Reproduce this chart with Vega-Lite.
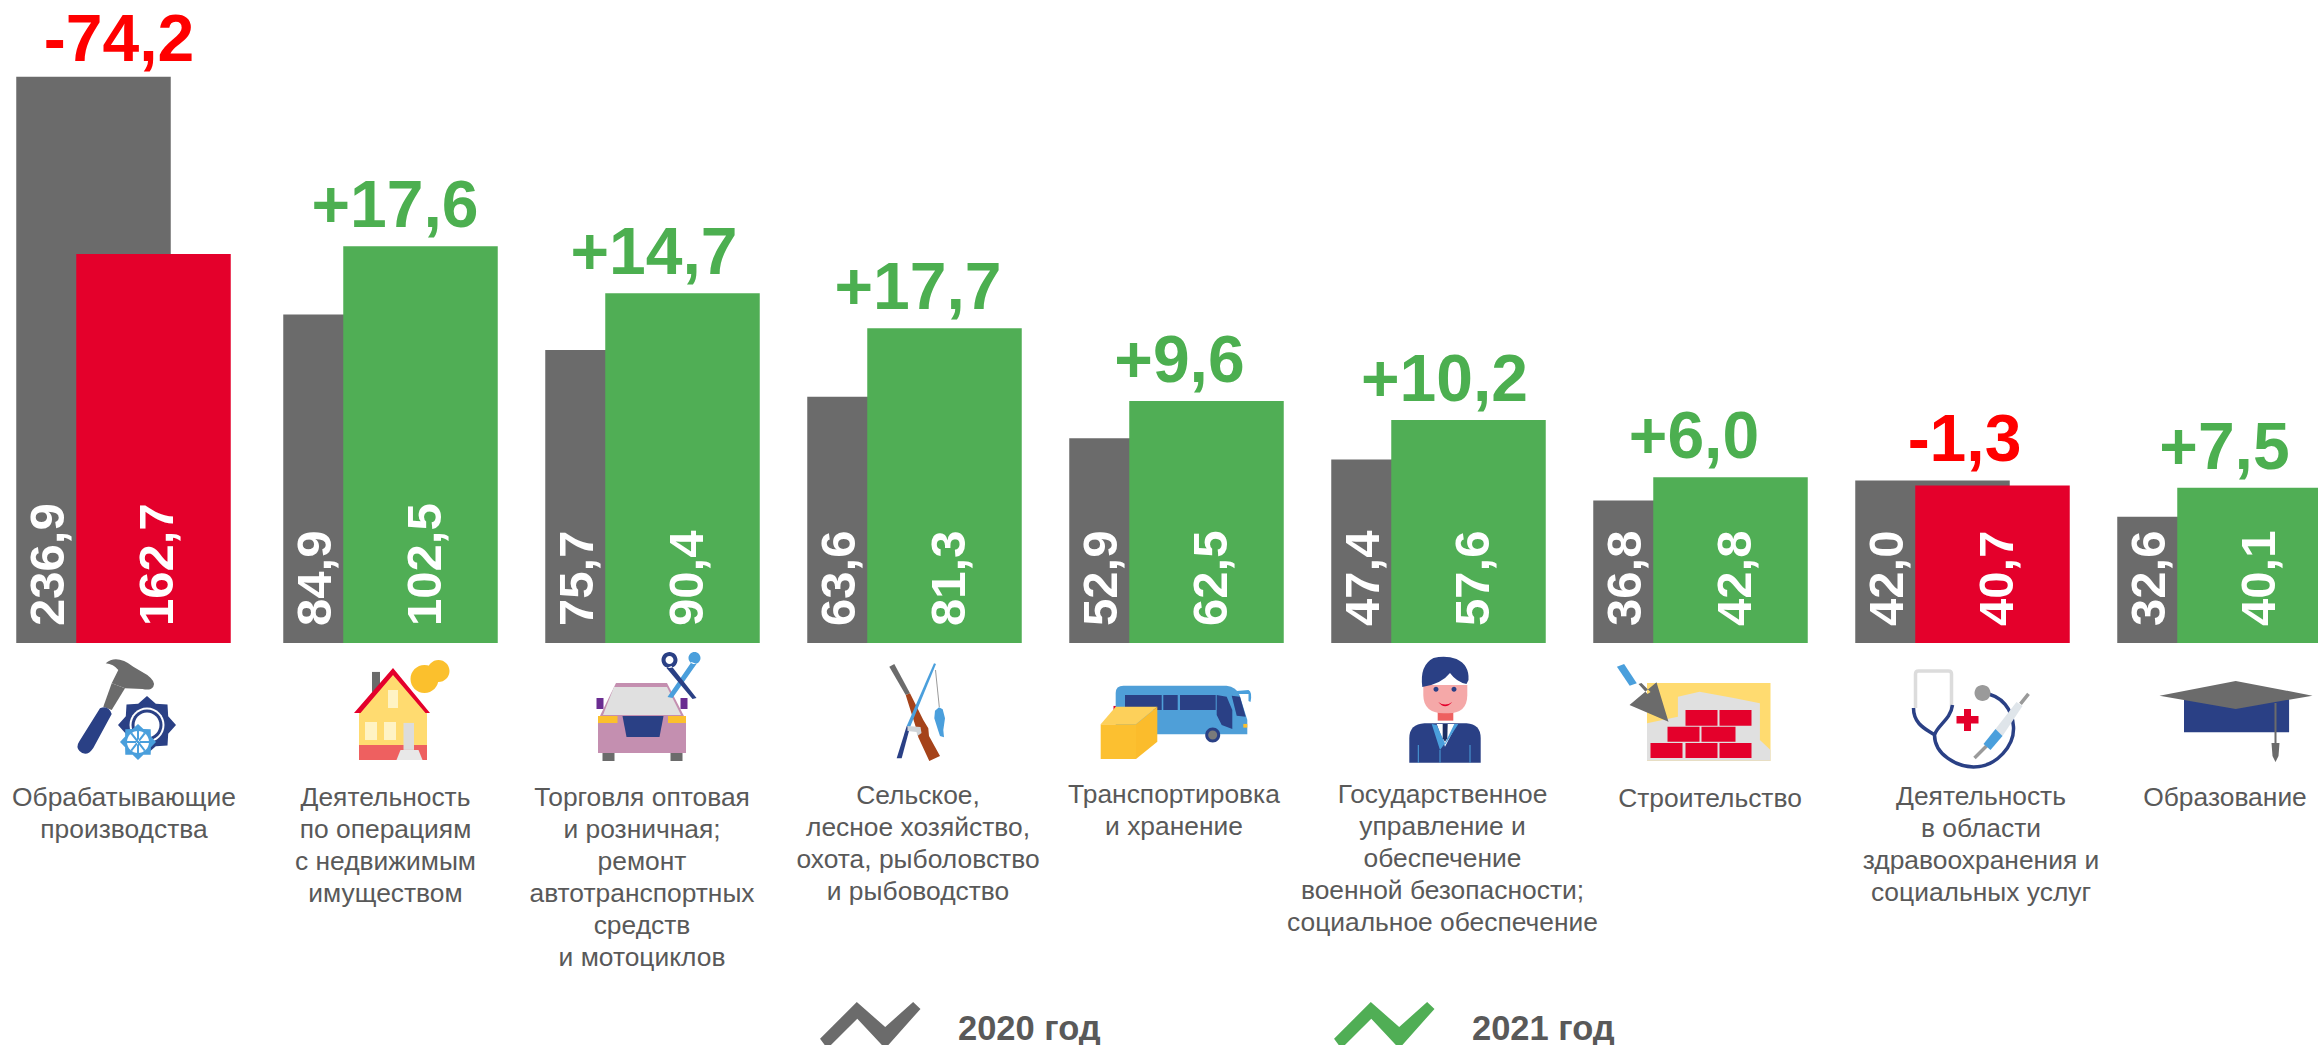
{"$schema":"https://vega.github.io/schema/vega-lite/v6.json","width":2318,"height":1045,"padding":0,"autosize":{"type":"none"},"background":"#ffffff",
"resolve":{"scale":{"y":"independent","shape":"independent"}},
"config":{"view":{"stroke":null},"style":{
"val":{"font":"Liberation Sans","fontSize":49,"fontWeight":"bold","color":"#ffffff","angle":270,"align":"left","baseline":"middle","dx":17},
"up":{"font":"Liberation Sans","fontSize":66,"fontWeight":"bold","color":"#4caf50","align":"center","baseline":"alphabetic","dy":-19},
"down":{"font":"Liberation Sans","fontSize":66,"fontWeight":"bold","color":"#ff0000","align":"center","baseline":"alphabetic","dy":-19},
"cap":{"font":"Liberation Sans","fontSize":26.4,"color":"#595959","align":"center","baseline":"top","lineBreak":"\n","lineHeight":32}}},
"datasets":{
"bars":[
{"cat":"Производство","year":"2020","status":"2020 год","value":236.9,"label":"236,9"},
{"cat":"Производство","year":"2021","status":"снижение","value":162.7,"label":"162,7"},
{"cat":"Недвижимость","year":"2020","status":"2020 год","value":84.9,"label":"84,9"},
{"cat":"Недвижимость","year":"2021","status":"2021 год","value":102.5,"label":"102,5"},
{"cat":"Торговля","year":"2020","status":"2020 год","value":75.7,"label":"75,7"},
{"cat":"Торговля","year":"2021","status":"2021 год","value":90.4,"label":"90,4"},
{"cat":"Сельское","year":"2020","status":"2020 год","value":63.6,"label":"63,6"},
{"cat":"Сельское","year":"2021","status":"2021 год","value":81.3,"label":"81,3"},
{"cat":"Транспорт","year":"2020","status":"2020 год","value":52.9,"label":"52,9"},
{"cat":"Транспорт","year":"2021","status":"2021 год","value":62.5,"label":"62,5"},
{"cat":"Госуправление","year":"2020","status":"2020 год","value":47.4,"label":"47,4"},
{"cat":"Госуправление","year":"2021","status":"2021 год","value":57.6,"label":"57,6"},
{"cat":"Строительство","year":"2020","status":"2020 год","value":36.8,"label":"36,8"},
{"cat":"Строительство","year":"2021","status":"2021 год","value":42.8,"label":"42,8"},
{"cat":"Здравоохранение","year":"2020","status":"2020 год","value":42.0,"label":"42,0"},
{"cat":"Здравоохранение","year":"2021","status":"снижение","value":40.7,"label":"40,7"},
{"cat":"Образование","year":"2020","status":"2020 год","value":32.6,"label":"32,6"},
{"cat":"Образование","year":"2021","status":"2021 год","value":40.1,"label":"40,1"}],
"deltas":[
{"cat":"Производство","delta":"-74,2","top":236.9},
{"cat":"Недвижимость","delta":"+17,6","top":102.5},
{"cat":"Торговля","delta":"+14,7","top":90.4},
{"cat":"Сельское","delta":"+17,7","top":81.3},
{"cat":"Транспорт","delta":"+9,6","top":62.5},
{"cat":"Госуправление","delta":"+10,2","top":57.6},
{"cat":"Строительство","delta":"+6,0","top":42.8},
{"cat":"Здравоохранение","delta":"-1,3","top":42.0},
{"cat":"Образование","delta":"+7,5","top":40.1}],
"caps":[
{"cat":"Производство","label":"Обрабатывающие\nпроизводства"},
{"cat":"Недвижимость","label":"Деятельность\nпо операциям\nс недвижимым\nимуществом"},
{"cat":"Торговля","label":"Торговля оптовая\nи розничная;\nремонт\nавтотранспортных\nсредств\nи мотоциклов"},
{"cat":"Сельское","label":"Сельское,\nлесное хозяйство,\nохота, рыболовство\nи рыбоводство"},
{"cat":"Транспорт","label":"Транспортировка\nи хранение"},
{"cat":"Госуправление","label":"Государственное\nуправление и\nобеспечение\nвоенной безопасности;\nсоциальное обеспечение"},
{"cat":"Строительство","label":"Строительство"},
{"cat":"Здравоохранение","label":"Деятельность\nв области\nздравоохранения и\nсоциальных услуг"},
{"cat":"Образование","label":"Образование"}],
"icons":[
{"cat":"Производство","part":"hammerShaft"},{"cat":"Производство","part":"hammerHead"},{"cat":"Производство","part":"hammerGrip"},{"cat":"Производство","part":"gearBig"},{"cat":"Производство","part":"gearRing"},{"cat":"Производство","part":"gearCore"},{"cat":"Производство","part":"gearHole"},{"cat":"Производство","part":"gearSmall"},{"cat":"Производство","part":"gearSmallHole"},{"cat":"Производство","part":"gearSpokes"},
{"cat":"Недвижимость","part":"chimney"},{"cat":"Недвижимость","part":"houseBody"},{"cat":"Недвижимость","part":"houseBase"},{"cat":"Недвижимость","part":"houseRoof"},{"cat":"Недвижимость","part":"houseDoor"},{"cat":"Недвижимость","part":"houseSteps"},{"cat":"Недвижимость","part":"houseWindows"},{"cat":"Недвижимость","part":"coins"},
{"cat":"Торговля","part":"carMirrors"},{"cat":"Торговля","part":"carWheels"},{"cat":"Торговля","part":"carBody"},{"cat":"Торговля","part":"carGlass"},{"cat":"Торговля","part":"carLights"},{"cat":"Торговля","part":"carGrill"},{"cat":"Торговля","part":"wrench"},{"cat":"Торговля","part":"scissors"},
{"cat":"Сельское","part":"rifleBarrel"},{"cat":"Сельское","part":"rifleStock"},{"cat":"Сельское","part":"rod"},{"cat":"Сельское","part":"rodLow"},{"cat":"Сельское","part":"reel"},{"cat":"Сельское","part":"fishLine"},{"cat":"Сельское","part":"fish"},
{"cat":"Транспорт","part":"busTail"},{"cat":"Транспорт","part":"busMirror"},{"cat":"Транспорт","part":"busBody"},{"cat":"Транспорт","part":"busGlass"},{"cat":"Транспорт","part":"busLamp"},{"cat":"Транспорт","part":"busWheel"},{"cat":"Транспорт","part":"busHub"},{"cat":"Транспорт","part":"boxLeft"},{"cat":"Транспорт","part":"boxRight"},{"cat":"Транспорт","part":"boxTop"},
{"cat":"Госуправление","part":"suit"},{"cat":"Госуправление","part":"neck"},{"cat":"Госуправление","part":"shirt"},{"cat":"Госуправление","part":"lapels"},{"cat":"Госуправление","part":"tie"},{"cat":"Госуправление","part":"face"},{"cat":"Госуправление","part":"hair"},{"cat":"Госуправление","part":"eyes"},{"cat":"Госуправление","part":"smile"},
{"cat":"Строительство","part":"wall"},{"cat":"Строительство","part":"plaster"},{"cat":"Строительство","part":"bricks"},{"cat":"Строительство","part":"trowel"},{"cat":"Строительство","part":"trowelGrip"},
{"cat":"Здравоохранение","part":"syringeBody"},{"cat":"Здравоохранение","part":"syringeDose"},{"cat":"Здравоохранение","part":"cross"},{"cat":"Здравоохранение","part":"chestPiece"},
{"cat":"Образование","part":"capBody"},{"cat":"Образование","part":"capTop"},{"cat":"Образование","part":"tassel"}],
"lines":[
{"cat":"Здравоохранение","part":"headset"},{"cat":"Здравоохранение","part":"tube"},{"cat":"Здравоохранение","part":"needle"}]
},
"encoding":{"x":{"field":"cat","type":"nominal","axis":null,"scale":{"type":"band","domain":["Производство","Недвижимость","Торговля","Сельское","Транспорт","Госуправление","Строительство","Здравоохранение","Образование"],"range":[-2.5,2355.5],"paddingInner":0,"paddingOuter":0}}},
"layer":[
{"data":{"name":"bars"},
 "encoding":{"y":{"field":"value","type":"quantitative","axis":null,"stack":null,"scale":{"domain":[-168.2,269],"nice":false,"zero":false}},
 "color":{"field":"status","type":"nominal","scale":{"domain":["2020 год","2021 год","снижение"],"range":["#6b6b6b","#50ae55","#e4002b"]},
  "legend":{"title":null,"orient":"none","legendX":822,"legendY":981,"direction":"horizontal","columns":2,"values":["2020 год","2021 год"],"symbolType":"M-1.04,.17 L-.29,-.58 L.29,-.07 L.86,-.58 L1.01,-.44 L.29,.37 L-.28,-.24 L-.89,.37 Z","symbolSize":9604,"symbolStrokeWidth":0,"symbolOpacity":1,"labelFont":"Liberation Sans","labelFontSize":34.5,"labelFontWeight":"bold","labelColor":"#595959","labelOffset":38,"columnPadding":233}}},
 "layer":[
 {"transform":[{"filter":"datum.year==='2020' && datum.cat==='Производство'"}],"mark":{"type":"bar","width":154.5,"xOffset":-35}},
 {"transform":[{"filter":"datum.year==='2021' && datum.cat==='Производство'"}],"mark":{"type":"bar","width":154.5,"xOffset":25}}]},
{"data":{"name":"bars"},
 "encoding":{"y":{"field":"value","type":"quantitative","axis":null,"stack":null,"scale":{"domain":[-103.9,166.15],"nice":false,"zero":false}},
 "color":{"field":"status","type":"nominal","scale":{"domain":["2020 год","2021 год","снижение"],"range":["#6b6b6b","#50ae55","#e4002b"]},
  "legend":{"title":null,"orient":"none","legendX":822,"legendY":981,"direction":"horizontal","columns":2,"values":["2020 год","2021 год"],"symbolType":"M-1.04,.17 L-.29,-.58 L.29,-.07 L.86,-.58 L1.01,-.44 L.29,.37 L-.28,-.24 L-.89,.37 Z","symbolSize":9604,"symbolStrokeWidth":0,"symbolOpacity":1,"labelFont":"Liberation Sans","labelFontSize":34.5,"labelFontWeight":"bold","labelColor":"#595959","labelOffset":38,"columnPadding":233}}},
 "layer":[
 {"transform":[{"filter":"datum.year==='2020' && datum.cat!=='Производство'"}],"mark":{"type":"bar","width":154.5,"xOffset":-30}},
 {"transform":[{"filter":"datum.year==='2021' && datum.cat!=='Производство'"}],"mark":{"type":"bar","width":154.5,"xOffset":30}}]},
{"data":{"name":"bars"},
 "encoding":{"y":{"datum":0,"axis":null,"scale":{"domain":[-168.2,269],"nice":false,"zero":false}},"text":{"field":"label","type":"nominal"}},
 "layer":[
 {"transform":[{"filter":"datum.year==='2020' && datum.cat==='Производство'"}],"mark":{"type":"text","style":"val","dy":-79.5}},
 {"transform":[{"filter":"datum.year==='2021' && datum.cat==='Производство'"}],"mark":{"type":"text","style":"val","dy":29}},
 {"transform":[{"filter":"datum.year==='2020' && datum.cat!=='Производство'"}],"mark":{"type":"text","style":"val","dy":-74.5}},
 {"transform":[{"filter":"datum.year==='2021' && datum.cat!=='Производство'"}],"mark":{"type":"text","style":"val","dy":35}}]},
{"data":{"name":"deltas"},"transform":[{"filter":"datum.cat==='Производство'"}],
 "mark":{"type":"text","style":"down","dx":-9.5,"dy":-16},
 "encoding":{"y":{"field":"top","type":"quantitative","axis":null,"scale":{"domain":[-168.2,269],"nice":false,"zero":false}},"text":{"field":"delta","type":"nominal"}}},
{"data":{"name":"deltas"},
 "encoding":{"y":{"field":"top","type":"quantitative","axis":null,"scale":{"domain":[-103.9,166.15],"nice":false,"zero":false}},"text":{"field":"delta","type":"nominal"}},
 "layer":[
 {"transform":[{"filter":"datum.cat==='Недвижимость'"}],"mark":{"type":"text","style":"up","dx":4.5}},
 {"transform":[{"filter":"datum.cat==='Торговля'"}],"mark":{"type":"text","style":"up","dx":1.5}},
 {"transform":[{"filter":"datum.cat==='Сельское'"}],"mark":{"type":"text","style":"up","dx":3.5}},
 {"transform":[{"filter":"datum.cat==='Транспорт'"}],"mark":{"type":"text","style":"up","dx":3}},
 {"transform":[{"filter":"datum.cat==='Госуправление'"}],"mark":{"type":"text","style":"up","dx":6}},
 {"transform":[{"filter":"datum.cat==='Строительство'"}],"mark":{"type":"text","style":"up","dx":-6.5}},
 {"transform":[{"filter":"datum.cat==='Здравоохранение'"}],"mark":{"type":"text","style":"down","dx":2}},
 {"transform":[{"filter":"datum.cat==='Образование'"}],"mark":{"type":"text","style":"up","dx":0}}]},
{"data":{"name":"caps"},
 "encoding":{"y":{"datum":-59.6,"axis":null,"scale":{"domain":[-168.2,269],"nice":false,"zero":false}},"text":{"field":"label","type":"nominal"}},
 "layer":[
 {"transform":[{"filter":"datum.cat==='Производство'"}],"mark":{"type":"text","style":"cap","dx":-4.5}},
 {"transform":[{"filter":"datum.cat==='Недвижимость'"}],"mark":{"type":"text","style":"cap","dx":-5}},
 {"transform":[{"filter":"datum.cat==='Торговля'"}],"mark":{"type":"text","style":"cap","dx":-10.5}},
 {"transform":[{"filter":"datum.cat==='Сельское'"}],"mark":{"type":"text","style":"cap","dx":3.5,"dy":-2}},
 {"transform":[{"filter":"datum.cat==='Транспорт'"}],"mark":{"type":"text","style":"cap","dx":-2.5,"dy":-3}},
 {"transform":[{"filter":"datum.cat==='Госуправление'"}],"mark":{"type":"text","style":"cap","dx":4,"dy":-3}},
 {"transform":[{"filter":"datum.cat==='Строительство'"}],"mark":{"type":"text","style":"cap","dx":9.5,"dy":1}},
 {"transform":[{"filter":"datum.cat==='Здравоохранение'"}],"mark":{"type":"text","style":"cap","dx":18.5,"dy":-1}},
 {"transform":[{"filter":"datum.cat==='Образование'"}],"mark":{"type":"text","style":"cap","dx":0.5}}]},
{"data":{"name":"lines"},
 "mark":{"type":"point","filled":false,"size":4,"opacity":1,"strokeWidth":3.5},
 "encoding":{"y":{"datum":-32.2,"axis":null,"scale":{"domain":[-168.2,269],"nice":false,"zero":false}},
 "shape":{"field":"part","type":"nominal","legend":null,"scale":{"domain":["headset","tube","needle"],"range":["M-47,-12 L-47,-46 Q-47,-49 -44,-49 L-14,-49 Q-11,-49 -11,-46 L-11,-12","M-49,-12 C-49,5 -35,10 -28,15 C-25,5 -12,0 -10,-15 M-28,15 C-28,35 -5,47 11,47 C35,47 52,25 51,7 C50,-10 40,-25 20,-27","M24,26 L12,38 M58,-16 L66,-26"]}},
 "stroke":{"field":"part","type":"nominal","legend":null,"scale":{"domain":["headset","tube","needle"],"range":["#dcdcdc","#2a4085","#9a9a9a"]}}}},
{"data":{"name":"icons"},
 "mark":{"type":"point","filled":true,"size":4,"opacity":1},
 "encoding":{"y":{"datum":-32.2,"axis":null,"scale":{"domain":[-168.2,269],"nice":false,"zero":false}},
 "shape":{"field":"part","type":"nominal","legend":null,"scale":{
 "domain":["hammerShaft","hammerHead","hammerGrip","gearBig","gearRing","gearCore","gearHole","gearSmall","gearSmallHole","gearSpokes","chimney","houseBody","houseBase","houseRoof","houseDoor","houseSteps","houseWindows","coins","carMirrors","carWheels","carBody","carGlass","carLights","carGrill","wrench","scissors","rifleBarrel","rifleStock","rod","rodLow","reel","fishLine","fish","busTail","busMirror","busBody","busGlass","busLamp","busWheel","busHub","boxLeft","boxRight","boxTop","suit","neck","shirt","lapels","tie","face","hair","eyes","smile","wall","plaster","bricks","trowel","trowelGrip","syringeBody","syringeDose","cross","chestPiece","capBody","capTop","tassel"],
 "range":[
 "M-16.8,-36.7 L-3.5,-31.7 L-16.8,-10 L-25.2,-13.3 Z",
 "M-22.8,-56.7 Q-12,-66 4.8,-53.3 L18.8,-45 Q28,-38 24.8,-33.3 Q22,-29 14,-31 L-3.5,-31.7 L-16.8,-36.7 L-10.2,-50 Q-15,-56 -22.8,-56.7 Z",
 "M-28.5,-11.7 Q-20,-15 -16.8,-6 L-35.2,28 Q-42,38 -49,31 Q-53,27 -49,21 Z",
 "M47.5,5 L39.7,13.8 L39,25.5 L27.3,26.2 L18.5,34 L9.7,26.2 L-2,25.5 L-2.7,13.8 L-10.5,5 L-2.7,-3.8 L-2,-15.5 L9.7,-16.2 L18.5,-24 L27.3,-16.2 L39,-15.5 L39.7,-3.8 Z",
 "M1,5 a17.5,17.5 0 1 0 35,0 a17.5,17.5 0 1 0 -35,0 Z",
 "M3,5 a15.5,15.5 0 1 0 31,0 a15.5,15.5 0 1 0 -31,0 Z",
 "M6,5 a12.5,12.5 0 1 0 25,0 a12.5,12.5 0 1 0 -25,0 Z",
 "M27.5,22 L22.4,27.4 L22.2,34.7 L14.9,34.9 L9.5,40 L4.1,34.9 L-3.2,34.7 L-3.4,27.4 L-8.5,22 L-3.4,16.6 L-3.2,9.3 L4.1,9.1 L9.5,4 L14.9,9.1 L22.2,9.3 L22.4,16.6 Z",
 "M-1.5,22 a11,11 0 1 0 22,0 a11,11 0 1 0 -22,0 Z",
 "M8.5,11 H10.5 V33 H8.5 Z M-1.5,21 H20.5 V23 H-1.5 Z M2,14 L3.5,12.6 L17,30 L15.5,31.4 Z M17,14 L15.5,12.6 L2,30 L3.5,31.4 Z",
 "M-18.5,-48 H-10.5 V-28 H-18.5 Z",
 "M2.5,-46 L36.5,-8 L36.5,40 L-31.5,40 L-31.5,-8 Z",
 "M-31.5,25 H36.5 V40 H-31.5 Z",
 "M2.5,-52 L39.5,-7 L35,-7 L2.5,-45 L-30,-7 L-36.5,-7 Z",
 "M13,3 H23.5 V30 H13 Z",
 "M10,30 H28 L32,40 H6 Z",
 "M-2.5,-30 H7.5 V-12 H-2.5 Z M-25.5,2 H-13.5 V20 H-25.5 Z M-6.5,2 H5.5 V20 H-6.5 Z",
 "M20,-41 a14,14 0 1 0 28,0 a14,14 0 1 0 -28,0 Z M37,-49 a11,11 0 1 0 22,0 a11,11 0 1 0 -22,0 Z",
 "M-56,-22 H-49 V-11 H-56 Z M28,-22 H35 V-11 H28 Z",
 "M-50,30 H-38 V41 H-50 Z M18,30 H30 V41 H18 Z",
 "M-36.5,-37 L14.5,-37 L33.5,0 L33.5,33 L-54.5,33 L-54.5,0 Z",
 "M-49.5,-5 L-38.5,-33 L14.5,-33 L28.5,-5 Z",
 "M-54.5,-4 H-35 V3 H-54.5 Z M15.5,-4 H33.5 V3 H15.5 Z",
 "M-30,-4 H11 L7,17 H-26 Z",
 "M39,-58 L44,-56 L20,-22 L15,-23 Z M36,-62 a6,6 0 1 0 12,0 a6,6 0 1 0 -12,0 Z",
 "M14,-52 L19,-54 L44,-22 L40,-21 Z M9,-60 a8,8 0 1 0 16,0 a8,8 0 1 0 -16,0 Z M13,-60 a4,4 0 1 1 8,0 a4,4 0 1 1 -8,0 Z",
 "M-25.2,-53.3 L-20.2,-56 L-4.5,-26.7 L-8.8,-25 Z",
 "M-8.8,-25 L-4.5,-26.7 L8.8,0 L13.8,8.3 L14.5,16 L25.5,36 L14.8,41 L3.8,17.3 L2.2,10 Z",
 "M19.5,-56.7 L21.5,-56 L-4.5,7.3 L-7.8,6 Z",
 "M-7.8,6 L-4.5,7.3 L-12.8,38.3 L-17.8,38.3 Z",
 "M-7,6 L6,7 L7,13 L3,16 L2,12 L-7,11 Z",
 "M20.5,-50 L21.5,-50 L25.3,-13 L24.3,-13 Z",
 "M24.5,-12.7 L28.2,-10.7 L30.5,-1.7 L28.8,10 L29.5,17.3 L25.5,16 L23.5,10 L19.8,-1.7 L20.5,-9.3 Z",
 "M-63,-14 H-60 V-7 H-63 Z",
 "M60,-29 L72,-30 Q76,-28 74,-18 L72,-19 L72,-26 L60,-26 Z",
 "M-60.8,-27 Q-60.8,-34.3 -53,-34.3 L50,-34.3 Q60,-33 63,-25 L70.8,0 L70.8,14.3 L-60.8,14.3 Z",
 "M-51.5,-25 H-14.8 V-10 H-51.5 Z M-13.2,-25 H1.2 V-10 H-13.2 Z M3.5,-25 H39.2 V-10 H3.5 Z M40.2,-25 L50.2,-23.3 L55.8,-10 L55.8,9 L45.2,5 L40.2,-5 Z M55.2,-24.3 L63.5,-23.3 L69.2,-3.3 L60.2,-4.3 Z",
 "M66.8,4 H70.8 V7.7 H66.8 Z",
 "M28.7,15 a7.5,7.5 0 1 0 15,0 a7.5,7.5 0 1 0 -15,0 Z",
 "M31.7,15 a4.5,4.5 0 1 0 9,0 a4.5,4.5 0 1 0 -9,0 Z",
 "M-75.8,4.3 H-40.5 V39 H-75.8 Z",
 "M-40.5,4.3 L-19.2,-13.3 L-19.2,21.7 L-40.5,39 Z",
 "M-75.8,4.3 L-60.8,-13.3 L-19.2,-13.3 L-40.5,4.3 Z",
 "M-29.2,42.7 L-29.2,18 Q-29,4 -14,3.3 L28,3.3 Q42,4 42.2,18 L42.2,42.7 Z",
 "M-0.8,-9 H14.8 V0.7 H-0.8 Z",
 "M-1.8,4 L18.2,4 L6.5,26.7 Z",
 "M-6.8,4 L-1.8,5 L6.5,23.3 L1.5,30 Z M19.8,4 L15.8,4 L6.5,23.3 L5,27 Z M-20.7,25 H-19.7 V42.7 H-20.7 Z M31,25 H32 V42.7 H31 Z M1,30 H2 V42.7 H1 Z",
 "M4.2,4 L9.2,4 L8.8,18.3 L6.5,21.7 L4.2,18.3 Z",
 "M-15.2,-35 L-15.2,-25 Q-15,-7 5,-6.7 L10,-6.7 Q28.8,-7 28.8,-25 L28.8,-35 Z",
 "M-16.2,-33 Q-19,-55 -5,-62 Q7,-65 18,-61 Q31,-55 30,-40 L28,-36 Q18,-38 11.5,-47 Q3,-36 -16.2,-33 Z",
 "M-5,-30.7 a2.5,2.5 0 1 0 5,0 a2.5,2.5 0 1 0 -5,0 Z M13,-30.7 a2.5,2.5 0 1 0 5,0 a2.5,2.5 0 1 0 -5,0 Z",
 "M-0.2,-18 Q6.5,-9.5 13.8,-18 Q6.5,-13 -0.2,-18 Z",
 "M-53.5,-37 H70 V41 H-53.5 Z",
 "M-22.6,-23.3 L-1,-28.3 L34.5,-21.7 L59.4,-16.7 L59.4,20 L70,30 L70,40.7 L-53.5,40.7 L-53.5,3.3 L-22.6,-3.3 Z",
 "M-15,-10 H17 V5.7 H-15 Z M19,-10 H51 V5.7 H19 Z M-33,6.7 H-1 V21.7 H-33 Z M1,6.7 H35 V21.7 H1 Z M-50,23 H-18 V38 H-50 Z M-15,23 H17 V38 H-15 Z M19,23 H51 V38 H19 Z",
 "M-44,-37.7 L-71,-15 L-32,1.7 Z M-62,-36 L-59,-37 L-50,-28 L-53,-26 Z",
 "M-83.6,-53.3 L-76.4,-56 L-63.7,-36.7 L-70.8,-34.3 Z",
 "M33,9 L40,16 L60,-14 L54,-18 Z",
 "M33,9 L40,16 L28,30 L21,24 Z",
 "M1.5,-11 H8.5 V-4 H16 V3.5 H8.5 V11 H1.5 V3.5 H-6 V-4 H1.5 Z",
 "M12,-27 a8,8 0 1 0 16,0 a8,8 0 1 0 -16,0 Z",
 "M-40.5,-22 H64.6 V12.3 H-40.5 Z",
 "M-65,-24.3 L11.2,-39 L88,-24.3 L11.2,-11 Z",
 "M50,-17 H52 V23 H55 L54,36 L51,42 L48,36 L47,23 H50 Z"]}},
 "fill":{"field":"part","type":"nominal","legend":null,"scale":{
 "domain":["hammerShaft","hammerHead","hammerGrip","gearBig","gearRing","gearCore","gearHole","gearSmall","gearSmallHole","gearSpokes","chimney","houseBody","houseBase","houseRoof","houseDoor","houseSteps","houseWindows","coins","carMirrors","carWheels","carBody","carGlass","carLights","carGrill","wrench","scissors","rifleBarrel","rifleStock","rod","rodLow","reel","fishLine","fish","busTail","busMirror","busBody","busGlass","busLamp","busWheel","busHub","boxLeft","boxRight","boxTop","suit","neck","shirt","lapels","tie","face","hair","eyes","smile","wall","plaster","bricks","trowel","trowelGrip","syringeBody","syringeDose","cross","chestPiece","capBody","capTop","tassel"],
 "range":["#6b6b6b","#6b6b6b","#2a4085","#2a4085","#ffffff","#2a4085","#ffffff","#4a9fdc","#ffffff","#4a9fdc","#6b6b6b","#ffdb70","#ee6060","#e4002b","#dcdcdc","#e8e8e8","#fff3c4","#fbc02d","#6a2c91","#6b6b6b","#c48fb0","#e0e0e0","#fbc02d","#2a4085","#4a9fdc","#2a4085","#6b6b6b","#a5431a","#4a9fdc","#2a4085","#cfd4d8","#9a9a9a","#4a9fdc","#e4002b","#4a9fdc","#4f9fd8","#2a4085","#fbc02d","#2a4085","#7a7a7a","#fcc030","#fbbc2c","#fdd05a","#2a4085","#ee6060","#ffffff","#4a9fdc","#1e2f63","#f5a8a8","#2a4085","#2a4085","#e4002b","#ffdb70","#e0e0e0","#e4002b","#6b6b6b","#4a9fdc","#dfe5ea","#4a9fdc","#e4002b","#9a9a9a","#2a4085","#6b6b6b","#6b6b6b"]}}}}
]}
